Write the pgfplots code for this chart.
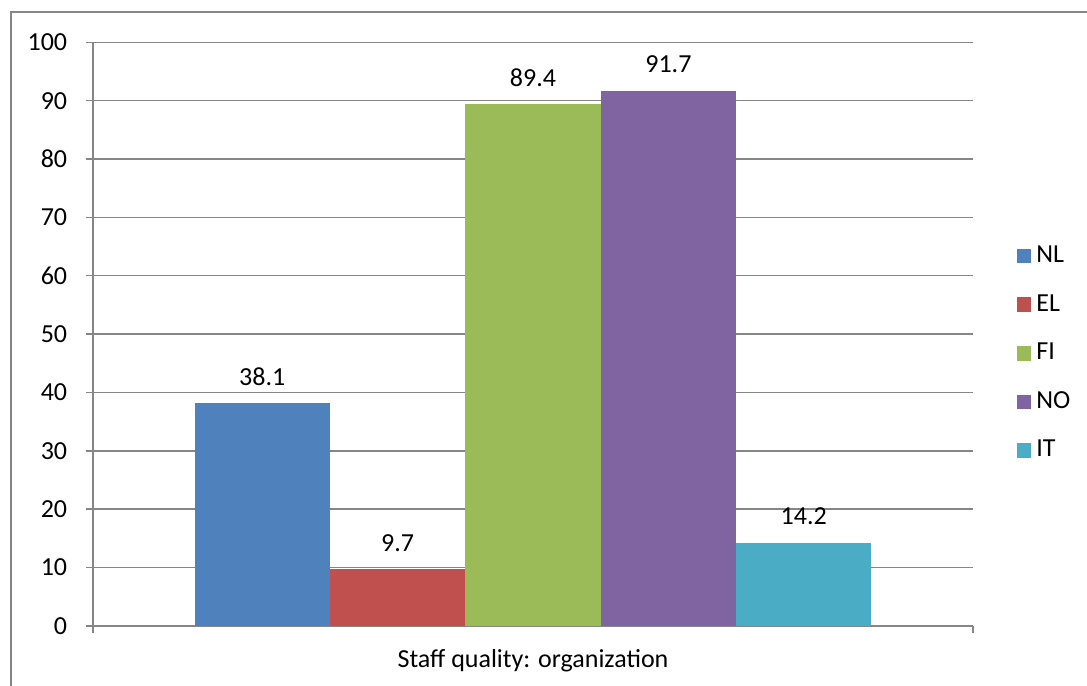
\documentclass[border=0pt]{standalone}
\usepackage{fontspec}
\setmainfont{Carlito}
\usepackage{pgfplots}
\pgfplotsset{compat=1.18}

\definecolor{cNL}{HTML}{4F81BD}
\definecolor{cEL}{HTML}{C0504D}
\definecolor{cFI}{HTML}{9BBB59}
\definecolor{cNO}{HTML}{8064A2}
\definecolor{cIT}{HTML}{4BACC6}
\definecolor{gridgray}{HTML}{868686}

\begin{document}
\fontsize{26bp}{30bp}\selectfont
\begin{tikzpicture}
\useasboundingbox (0,0) rectangle (1087bp,-686bp);
% chart area frame (left and top edges)
\draw[gridgray, line width=1.5bp] (11bp,-686bp) -- (11bp,-12bp) -- (1087bp,-12bp);
\begin{axis}[
  scale only axis,
  width=880bp, height=583.5bp,
  at={(93bp,-625.8bp)}, anchor=south west,
  ymin=0, ymax=100,
  xmin=-0.5, xmax=0.5,
  ytick={0,10,...,100},
  xtick={-0.5,0.5},
  xticklabels={},
  axis lines*=left,
  axis line style={gridgray, line width=1.5bp},
  ymajorgrids,
  grid style={gridgray, line width=1.5bp},
  major tick length=7bp,
  tick align=outside,
  tick style={gridgray, line width=1.5bp},
  yticklabel style={font=\fontsize{26bp}{30bp}\selectfont, xshift=-10bp},
  /pgf/number format/assume math mode=true,
  xlabel={Staff quality: organization},
  xlabel style={font=\fontsize{26bp}{30bp}\selectfont, at={(axis description cs:0.5,0)}, anchor=center, yshift=-35bp},
  ybar, bar width=0.153846, bar shift=0pt,
  nodes near coords,
  nodes near coords style={font=\fontsize{26bp}{30bp}\selectfont, black, yshift=9bp},
  every node near coord/.append style={/pgf/number format/fixed, /pgf/number format/precision=1, /pgf/number format/fixed zerofill},
  legend style={draw=none, at={(axis description cs:1.083,0.467)}, anchor=center,
    font=\fontsize{26bp}{30bp}\selectfont, row sep=24bp, fill=none,
    nodes={inner xsep=5bp}},
  legend cell align=left,
  legend image code/.code={\fill[#1] (0bp,-7.3bp) rectangle (14.7bp,7.3bp);},
  clip=false,
]
\addplot[fill=cNL, draw=none] coordinates {(-0.307692,38.1)};
\addplot[fill=cEL, draw=none] coordinates {(-0.153846,9.7)};
\addplot[fill=cFI, draw=none] coordinates {(0,89.4)};
\addplot[fill=cNO, draw=none] coordinates {(0.153846,91.7)};
\addplot[fill=cIT, draw=none] coordinates {(0.307692,14.2)};
\legend{NL,EL,FI,NO,IT}
\end{axis}
\end{tikzpicture}
\end{document}
